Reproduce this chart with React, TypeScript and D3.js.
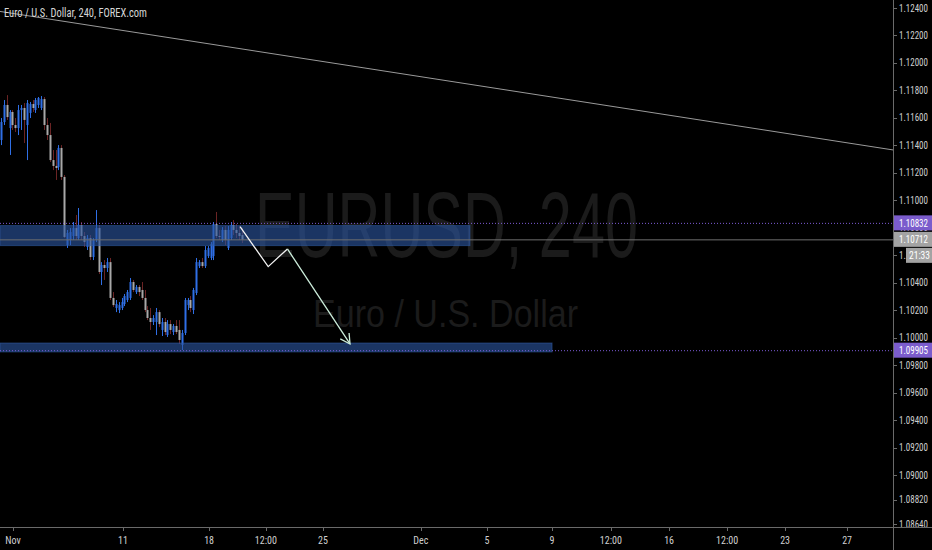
import React from "react"
import * as d3 from "d3"

const width = 932
const height = 550
const axisX = 893
const axisY = 527

// 4h bars, [open, high, low, close]
const candles: [number, number, number, number][] = [
  [1.11439, 1.11599, 1.11402, 1.1157],
  [1.1157, 1.1173, 1.11548, 1.11694],
  [1.11694, 1.11766, 1.11585, 1.11606],
  [1.11526, 1.11657, 1.1133, 1.11643],
  [1.11643, 1.11657, 1.11512, 1.11548],
  [1.11548, 1.11599, 1.11497, 1.11526],
  [1.11526, 1.11694, 1.11475, 1.11657],
  [1.11657, 1.11694, 1.11512, 1.11672],
  [1.11672, 1.11708, 1.11417, 1.11585],
  [1.11548, 1.1173, 1.11293, 1.11708],
  [1.11636, 1.11716, 1.11599, 1.11701],
  [1.11701, 1.1173, 1.11643, 1.11672],
  [1.11657, 1.11745, 1.11636, 1.1173],
  [1.11694, 1.11752, 1.11672, 1.11745],
  [1.11672, 1.11759, 1.11657, 1.11737],
  [1.11737, 1.11752, 1.11512, 1.11548],
  [1.11548, 1.11599, 1.11439, 1.11475],
  [1.11475, 1.11563, 1.11279, 1.11293],
  [1.11293, 1.11366, 1.1122, 1.1125],
  [1.1125, 1.11366, 1.11148, 1.11235],
  [1.11242, 1.11402, 1.1122, 1.11381],
  [1.11381, 1.11402, 1.11148, 1.1117],
  [1.1117, 1.11184, 1.10725, 1.10733],
  [1.10674, 1.10784, 1.10653, 1.10762],
  [1.10711, 1.10798, 1.10674, 1.10769],
  [1.1074, 1.10842, 1.10711, 1.10798],
  [1.10798, 1.10893, 1.10711, 1.1074],
  [1.10725, 1.10944, 1.10711, 1.1082],
  [1.1082, 1.10842, 1.10711, 1.1074],
  [1.1074, 1.10769, 1.1066, 1.10696],
  [1.1066, 1.10747, 1.10638, 1.10725],
  [1.10725, 1.10747, 1.10565, 1.10587],
  [1.10587, 1.10725, 1.10565, 1.10711],
  [1.10711, 1.10929, 1.10696, 1.10798],
  [1.10798, 1.1082, 1.10463, 1.10478],
  [1.10478, 1.1055, 1.10383, 1.10529],
  [1.10529, 1.10565, 1.1042, 1.10507],
  [1.10507, 1.1058, 1.10478, 1.1055],
  [1.1055, 1.1058, 1.10274, 1.10289],
  [1.10289, 1.10332, 1.10223, 1.10237],
  [1.10216, 1.10274, 1.10186, 1.10245],
  [1.10201, 1.10259, 1.10179, 1.10237],
  [1.10216, 1.10289, 1.10201, 1.10259],
  [1.10245, 1.10318, 1.1023, 1.10303],
  [1.10274, 1.10347, 1.10259, 1.10332],
  [1.10289, 1.10434, 1.10274, 1.10405],
  [1.10405, 1.1042, 1.10332, 1.10347],
  [1.10332, 1.10383, 1.10318, 1.10369],
  [1.10369, 1.10383, 1.10303, 1.10332],
  [1.10347, 1.10405, 1.10274, 1.10289],
  [1.10289, 1.10347, 1.10186, 1.10201],
  [1.10201, 1.1023, 1.10128, 1.10143],
  [1.10143, 1.10216, 1.10056, 1.10114],
  [1.10114, 1.10164, 1.10092, 1.10143],
  [1.10114, 1.10216, 1.10019, 1.10186],
  [1.10186, 1.10201, 1.10077, 1.10099],
  [1.10056, 1.10143, 1.10012, 1.10114],
  [1.10114, 1.10143, 1.10019, 1.10041],
  [1.10019, 1.10128, 1.10005, 1.10099],
  [1.10099, 1.10128, 1.10026, 1.10056],
  [1.10041, 1.10099, 1.10019, 1.10085],
  [1.10085, 1.10128, 1.10026, 1.10041],
  [1.10056, 1.10128, 1.09954, 1.09983],
  [1.09947, 1.10056, 1.0991, 1.10034],
  [1.10034, 1.10289, 1.10019, 1.10274],
  [1.10237, 1.10289, 1.10201, 1.10274],
  [1.10274, 1.10303, 1.10186, 1.10216],
  [1.10201, 1.10362, 1.10172, 1.10347],
  [1.10325, 1.1058, 1.1031, 1.1055],
  [1.10521, 1.10565, 1.10507, 1.1055],
  [1.1055, 1.1058, 1.10507, 1.10521],
  [1.10521, 1.10667, 1.10507, 1.10638],
  [1.10594, 1.10667, 1.1058, 1.10653],
  [1.1058, 1.10696, 1.10565, 1.10682],
  [1.10594, 1.10842, 1.10565, 1.10827],
  [1.10827, 1.10915, 1.10725, 1.1074],
  [1.1074, 1.10784, 1.10711, 1.10733],
  [1.10711, 1.10805, 1.10696, 1.10784],
  [1.10784, 1.10813, 1.10674, 1.10711],
  [1.10653, 1.10813, 1.10638, 1.10784],
  [1.10725, 1.10842, 1.10711, 1.1082],
  [1.1082, 1.10856, 1.10747, 1.10784],
  [1.10784, 1.10827, 1.10725, 1.10762],
  [1.10762, 1.10813, 1.10711, 1.1074],
  [1.10747, 1.10798, 1.10689, 1.10712],
]

const priceTicks = [
  1.124, 1.122, 1.12, 1.118, 1.116, 1.114, 1.112, 1.11, 1.108, 1.106, 1.104, 1.102, 1.1,
  1.098, 1.096, 1.094, 1.092, 1.09, 1.0882, 1.0864,
]

// time axis ticks, positioned in bar units (weekends skipped)
const timeTickBars = [4.2, 42.5, 72.5, 92.3, 112.2, 146.3, 169.3, 192, 212.5, 232.8, 253, 273.2, 294.8]
const timeTickLabels = ["Nov", "11", "18", "12:00", "25", "Dec", "5", "9", "12:00", "16", "12:00", "23", "27"]

// drawings
const trendBars = [-0.35, 311]
const trendPrices = [1.12375, 1.11366]

const zoneTops = [1.10816, 1.09961]
const zoneBottoms = [1.1067, 1.09896]
const zoneEnds = [163.4, 192]

const pathBars = [83.3, 93.1, 99.8, 121.6]
const pathPrices = [1.10808, 1.10517, 1.10646, 1.09954]

const markedPrices = [1.10832, 1.09905]
const lastPrice = 1.10712
const countdown = "21:33"

const narrow = "'Liberation Sans Narrow', 'Roboto Condensed', 'Liberation Sans', sans-serif"

export default function App() {
  const x = d3.scaleLinear().domain([0, 311]).range([1, 1 + 2.87 * 311])
  const y = d3.scaleLinear().domain([1.124, 1.09]).range([8, 475])
  const fmt = d3.format(".5f")

  const upColor = "#2f6fe6"
  const downBody = "#a8a8a8"
  const downWick = "#6b2424"

  const pathPts = pathBars.map((b, i) => [x(b), y(pathPrices[i])] as [number, number])
  const line = d3.line()
  const tip = pathPts[pathPts.length - 1]
  const prev = pathPts[pathPts.length - 2]
  const ang = Math.atan2(tip[1] - prev[1], tip[0] - prev[0])
  const head = [ang + Math.PI - 0.5, ang + Math.PI + 0.5].map(
    (a) => [tip[0] + 11 * Math.cos(a), tip[1] + 11 * Math.sin(a)] as [number, number],
  )

  const axisLabel = (p: number, fill: string, key?: string | number) => (
    <text
      key={key}
      x={899}
      y={y(p)}
      dy="0.35em"
      fontFamily={narrow}
      fontSize={10}
      fill={fill}
      textLength={29}
      lengthAdjust="spacingAndGlyphs"
    >
      {fmt(p)}
    </text>
  )

  return (
    <svg
      width={width}
      height={height}
      style={{ position: "absolute", left: 0, top: 0, background: "#000" }}
    >
      <defs>
        <clipPath id="plot">
          <rect x={0} y={0} width={axisX} height={axisY} />
        </clipPath>
        <clipPath id="paxis">
          <rect x={axisX} y={0} width={width - axisX} height={axisY} />
        </clipPath>
      </defs>
      <rect x={0} y={0} width={width} height={height} fill="#000" />

      <g clipPath="url(#plot)">
        {/* watermark */}
        <text
          x={255}
          y={257}
          fontFamily="'Liberation Sans', Arial, sans-serif"
          fontSize={92}
          fill="#1b1b1b"
          textLength={383}
          lengthAdjust="spacingAndGlyphs"
        >
          EURUSD, 240
        </text>
        <text
          x={313}
          y={327}
          fontFamily="'Liberation Sans', Arial, sans-serif"
          fontSize={39}
          fill="#1b1b1b"
          textLength={265}
          lengthAdjust="spacingAndGlyphs"
        >
          Euro / U.S. Dollar
        </text>

        {/* candles */}
        {candles.map(([o, h, l, c], i) => {
          const up = c >= o
          const cx = Math.round(x(i))
          const top = y(Math.max(o, c))
          const bh = Math.max(1, y(Math.min(o, c)) - top)
          return (
            <g key={i}>
              <rect x={cx} y={y(h)} width={1} height={y(l) - y(h)} fill={up ? upColor : downWick} />
              <rect x={cx - 0.5} y={top} width={2} height={bh} fill={up ? upColor : downBody} />
            </g>
          )
        })}

        {/* zones */}
        {zoneTops.map((t, i) => (
          <rect
            key={i}
            x={0}
            y={y(t)}
            width={x(zoneEnds[i])}
            height={y(zoneBottoms[i]) - y(t)}
            fill="#2b55a0"
            fillOpacity={0.62}
            stroke="#3462ad"
            strokeOpacity={0.5}
            strokeWidth={1}
          />
        ))}

        {/* last price line */}
        <line x1={0} x2={axisX} y1={y(lastPrice)} y2={y(lastPrice)} stroke="#6e6e6e" strokeWidth={1} />

        {/* marked levels */}
        {markedPrices.map((p) => (
          <line
            key={p}
            x1={0}
            x2={axisX}
            y1={y(p)}
            y2={y(p)}
            stroke="#7c5cd6"
            strokeWidth={1}
            strokeDasharray="1,2"
          />
        ))}

        {/* trend line */}
        <line
          x1={x(trendBars[0])}
          y1={y(trendPrices[0])}
          x2={x(trendBars[1])}
          y2={y(trendPrices[1])}
          stroke="#9a9a9a"
          strokeWidth={1}
        />

        {/* projected path */}
        <path d={line(pathPts.slice(0, 3)) || ""} fill="none" stroke="#f2f2f2" strokeWidth={1.3} />
        <path d={line(pathPts.slice(2)) || ""} fill="none" stroke="#cdeedc" strokeWidth={1.3} />
        <path d={line([head[0], tip, head[1]]) || ""} fill="none" stroke="#cdeedc" strokeWidth={1.3} />

        {/* title */}
        <text x={4} y={17} fontFamily={narrow} fontSize={12} fill="#d6d6d6" textLength={143} lengthAdjust="spacingAndGlyphs">
          Euro / U.S. Dollar, 240, FOREX.com
        </text>
      </g>

      {/* axes */}
      <line x1={axisX + 0.5} x2={axisX + 0.5} y1={0} y2={height} stroke="#6a6a6a" />
      <line x1={0} x2={width} y1={axisY + 0.5} y2={axisY + 0.5} stroke="#6a6a6a" />

      <g clipPath="url(#paxis)">
        {priceTicks.map((p) => (
          <g key={p}>
            <line x1={axisX} x2={axisX + 4} y1={Math.round(y(p)) + 0.5} y2={Math.round(y(p)) + 0.5} stroke="#6a6a6a" />
            {axisLabel(p, "#cfcfcf")}
          </g>
        ))}
      </g>

      <g fontFamily={narrow} fontSize={10} fill="#cfcfcf" textAnchor="middle">
        {timeTickBars.map((b, i) => (
          <g key={i}>
            <line x1={Math.round(x(b)) + 0.5} x2={Math.round(x(b)) + 0.5} y1={axisY} y2={axisY + 4} stroke="#6a6a6a" />
            <text x={x(b)} y={544}>
              {timeTickLabels[i]}
            </text>
          </g>
        ))}
      </g>

      {/* price labels on axis */}
      {markedPrices.map((p) => (
        <g key={p}>
          <rect x={axisX + 1} y={y(p) - 8} width={width - axisX - 1} height={15} fill="#7b5ccc" />
          {axisLabel(p, "#fff")}
        </g>
      ))}
      <rect x={axisX + 1} y={y(lastPrice) - 8} width={width - axisX - 1} height={15} fill="#a3a3a3" />
      {axisLabel(lastPrice, "#fff")}
      <rect x={906} y={y(lastPrice) + 8} width={width - 906} height={15} fill="#a3a3a3" />
      <text
        x={909}
        y={y(lastPrice) + 15.5}
        dy="0.35em"
        fontFamily={narrow}
        fontSize={10}
        fill="#fff"
        textLength={21}
        lengthAdjust="spacingAndGlyphs"
      >
        {countdown}
      </text>
    </svg>
  )
}
